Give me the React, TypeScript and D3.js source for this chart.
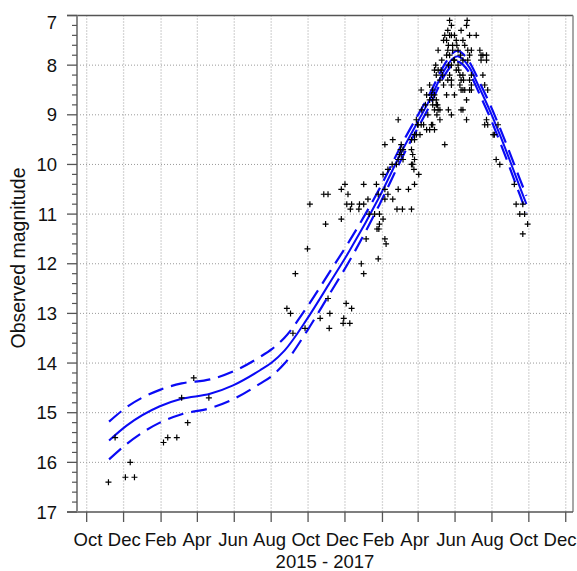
import React from "react";
import * as d3 from "d3";

const WIDTH = 577;
const HEIGHT = 571;

// Observations: [days since 2015-10-01 (UTC), observed magnitude]
const observations: [number, number][] = [
  [36, 16.4], [47, 15.5], [64, 16.3], [72, 16.0], [79, 16.3], [127, 15.6], [134, 15.5],
  [149, 15.5], [157, 14.7], [167, 15.2], [177, 14.3], [202, 14.7],
  [331, 12.9], [337, 13.0], [341, 13.4], [345, 12.2], [361, 13.3], [365, 11.7], [369, 10.8],
  [386, 13.1], [392, 10.6], [395, 11.2], [399, 10.6], [399, 12.7], [401, 13.3], [402, 13.0],
  [421, 10.5], [421, 11.1], [424, 13.2], [425, 13.1], [427, 10.4], [429, 12.8], [430, 10.8],
  [432, 10.6], [435, 13.2], [436, 10.9], [438, 10.8], [438, 12.9], [450, 10.9], [451, 10.8],
  [454, 12.0], [458, 10.4], [458, 10.8], [458, 12.2], [462, 11.5], [465, 10.7], [467, 11.0],
  [476, 11.0], [479, 10.4], [480, 11.3], [482, 10.6], [482, 11.9], [483, 11.3], [484, 11.0],
  [484, 11.2], [490, 10.2], [490, 11.1], [493, 10.5], [493, 11.5], [495, 11.6], [498, 10.6],
  [505, 10.0], [506, 10.7], [513, 10.9], [515, 10.5], [522, 10.9], [532, 10.5], [537, 10.0],
  [537, 10.9], [541, 10.1], [542, 10.4], [549, 10.2],
  [493, 9.6], [493, 10.7], [498, 10.1], [506, 9.5], [512, 10.0], [515, 9.1], [515, 9.9],
  [517, 9.8], [519, 9.7], [520, 9.6], [520, 9.8], [523, 9.7], [523, 9.9], [537, 9.5],
  [537, 9.7], [539, 9.8], [539, 10.0], [542, 9.4], [542, 9.5], [542, 9.9], [545, 9.1],
  [545, 9.4], [547, 9.2], [548, 9.2], [551, 9.4], [553, 8.5], [553, 9.2], [554, 8.9],
  [557, 9.2], [560, 8.8], [562, 8.6], [562, 9.3], [564, 9.0], [567, 8.4], [567, 8.7],
  [567, 9.3], [570, 8.6], [570, 9.2], [572, 8.5], [572, 8.7], [572, 8.8], [572, 9.2],
  [575, 8.1], [575, 8.6], [575, 8.9], [575, 9.3], [577, 8.0], [578, 8.2], [578, 8.7],
  [578, 8.8], [579, 9.0], [580, 8.8], [581, 7.7], [581, 8.1], [581, 8.9], [584, 8.3],
  [584, 8.9], [584, 9.1], [586, 8.1], [587, 7.9], [588, 8.2], [590, 7.5], [590, 8.4],
  [592, 7.4], [592, 9.6], [595, 7.5], [595, 7.8], [595, 8.6], [597, 7.3], [597, 7.7],
  [597, 8.3], [598, 7.6], [598, 8.0], [598, 8.9], [600, 7.1], [600, 7.4], [600, 7.8],
  [600, 8.2], [603, 7.2], [603, 7.4], [603, 8.0], [603, 8.3], [603, 8.4], [603, 9.0],
  [605, 7.6], [605, 7.7], [607, 7.9], [608, 7.4], [608, 7.9], [608, 8.6], [611, 7.5],
  [612, 7.6], [614, 7.7], [614, 8.0], [615, 8.1], [617, 8.2], [617, 8.4], [618, 7.8],
  [619, 7.3], [619, 8.5], [619, 8.9], [622, 7.9], [623, 8.3], [628, 7.2], [628, 8.7],
  [628, 9.1], [629, 7.1], [633, 7.4], [644, 7.4], [650, 7.7], [655, 7.8], [658, 9.2],
  [661, 7.9], [661, 9.1], [663, 9.2],
  [611, 8.1], [619, 8.3], [622, 7.5], [622, 8.2], [622, 8.5], [622, 8.9], [625, 7.6],
  [625, 8.5], [630, 7.7], [630, 7.9], [633, 7.8], [633, 8.3], [633, 8.5], [636, 7.7],
  [636, 8.2], [636, 8.4], [636, 8.5], [652, 7.8], [652, 7.9], [655, 8.2], [658, 8.4],
  [661, 7.8], [663, 8.5], [672, 9.4], [674, 9.4], [677, 9.9], [680, 9.2], [683, 10.0],
  [707, 10.4], [710, 10.8], [716, 11.0], [721, 10.8], [721, 11.4], [724, 11.0], [729, 11.2],
];

// Fitted light curve (days since 2015-10-01) with its confidence half-width
const fitDay = [37, 66, 121, 157, 204, 242, 286, 306, 327, 365, 400, 435, 484, 522, 567, 595, 605, 613, 622, 633, 649, 666, 683, 699, 716, 727];
const fitMag = [15.56, 15.26, 14.87, 14.72, 14.62, 14.45, 14.15, 13.99, 13.75, 13.1, 12.42, 11.73, 10.65, 9.71, 8.70, 8.03, 7.87, 7.82, 7.88, 8.05, 8.45, 8.9, 9.4, 9.9, 10.45, 10.8];
const fitHalfWidth = [0.38, 0.37, 0.33, 0.31, 0.29, 0.28, 0.27, 0.27, 0.26, 0.24, 0.22, 0.2, 0.16, 0.14, 0.12, 0.11, 0.11, 0.11, 0.11, 0.11, 0.12, 0.13, 0.14, 0.15, 0.16, 0.17];

// Axis ticks
const xTickDates = [
  "2015-10-01", "2015-12-01", "2016-02-01", "2016-04-01", "2016-06-01", "2016-08-01", "2016-10-01",
  "2016-12-01", "2017-02-01", "2017-04-01", "2017-06-01", "2017-08-01", "2017-10-01", "2017-12-01",
];
const yTicks = [7, 8, 9, 10, 11, 12, 13, 14, 15, 16, 17];
const xTitle = "2015 - 2017";
const yTitle = "Observed magnitude";

const EPOCH = Date.UTC(2015, 9, 1);
const DAY_MS = 86400000;
const toDate = (d: number) => new Date(EPOCH + d * DAY_MS);

const FONT = "'Liberation Sans', Arial, Helvetica, sans-serif";
const BLUE = "#0a0af5";
const LABEL_SIZE = 18.5;

export default function App() {
  const left = 77;
  const right = 573;
  const top = 15.5;
  const bottom = 512;

  const x = d3
    .scaleUtc()
    .domain([new Date(Date.UTC(2015, 8, 15)), new Date(Date.UTC(2017, 11, 13))])
    .range([left, right]);
  const y = d3.scaleLinear().domain([7, 17]).range([top, bottom]);

  type FitPoint = { d: number; m: number; h: number };
  const fit: FitPoint[] = fitDay.map((d, i) => ({ d, m: fitMag[i], h: fitHalfWidth[i] }));
  const mkLine = (f: (p: FitPoint) => number) =>
    d3
      .line<FitPoint>()
      .x((p) => x(toDate(p.d)))
      .y((p) => y(f(p)))
      .curve(d3.curveMonotoneX)(fit) as string;

  const centerPath = mkLine((p) => p.m);
  const upperPath = mkLine((p) => p.m - p.h);
  const lowerPath = mkLine((p) => p.m + p.h);

  const xTicks = xTickDates.map((s) => new Date(s + "T00:00:00Z"));
  const monthFmt = d3.utcFormat("%b");
  // month names are spread evenly so that the last one stays inside the figure
  const labelX = d3.scaleLinear().domain([0, xTicks.length - 1]).range([88, 560]);
  const minorY = d3.range(7, 17.0001, 0.2).filter((v) => Math.abs(v - Math.round(v)) > 1e-6);

  return (
    <div style={{ position: "absolute", left: 0, top: 0 }}>
      <svg width={WIDTH} height={HEIGHT} style={{ display: "block", background: "#fff" }}>
        {/* grid */}
        <g stroke="#9a9a9a" strokeWidth={1} strokeDasharray="1,2" fill="none">
          {yTicks
            .filter((v) => v > 7 && v < 17)
            .map((v) => (
              <line key={"gy" + v} x1={left} x2={right} y1={y(v)} y2={y(v)} />
            ))}
          {xTicks.map((t, i) => (
            <line key={"gx" + i} x1={x(t)} x2={x(t)} y1={top} y2={bottom} stroke="#b0b0b0" strokeWidth={1.3} />
          ))}
        </g>

        {/* frame */}
        <line x1={left - 10} x2={right} y1={top} y2={top} stroke="#555" strokeWidth={1.5} />
        <line x1={right} x2={right} y1={top} y2={bottom} stroke="#8a8a8a" strokeWidth={1.5} />
        <line x1={left - 10} x2={right} y1={bottom} y2={bottom} stroke="#555" strokeWidth={1.5} />
        <line x1={left} x2={left} y1={top} y2={bottom} stroke="#8a8a8a" strokeWidth={2} />

        {/* y ticks */}
        {yTicks.map((v) => (
          <line key={"ty" + v} x1={left - 10} x2={left} y1={y(v)} y2={y(v)} stroke="#555" strokeWidth={1.3} />
        ))}
        {minorY.map((v, i) => (
          <line key={"my" + i} x1={left - 5} x2={left} y1={y(v)} y2={y(v)} stroke="#555" strokeWidth={1.2} />
        ))}
        {yTicks.map((v) => (
          <text
            key={"ly" + v}
            x={57}
            y={Math.max(y(v), 22.5)}
            textAnchor="end"
            dominantBaseline="central"
            fontFamily={FONT}
            fontSize={LABEL_SIZE}
            fill="#111"
          >
            {v}
          </text>
        ))}

        {/* x ticks */}
        {xTicks.map((t, i) => (
          <g key={"tx" + i}>
            <line x1={x(t)} x2={x(t)} y1={bottom} y2={bottom + 10} stroke="#555" strokeWidth={1.3} />
            <text x={labelX(i)} y={546} textAnchor="middle" fontFamily={FONT} fontSize={LABEL_SIZE} fill="#111">
              {monthFmt(t)}
            </text>
          </g>
        ))}
        <text x={(left + right) / 2} y={568} textAnchor="middle" fontFamily={FONT} fontSize={LABEL_SIZE} fill="#111">
          {xTitle}
        </text>
        <text
          transform={`translate(25,258) rotate(-90)`}
          textAnchor="middle"
          fontFamily={FONT}
          fontSize={19.5}
          fill="#111"
        >
          {yTitle}
        </text>

        {/* fitted curve and confidence band */}
        <path d={upperPath} fill="none" stroke={BLUE} strokeWidth={2.2} strokeDasharray="16,8" />
        <path d={lowerPath} fill="none" stroke={BLUE} strokeWidth={2.2} strokeDasharray="16,8" />
        <path d={centerPath} fill="none" stroke={BLUE} strokeWidth={2} />

        {/* observations */}
        <g stroke="#000" strokeWidth={1.2} fill="none">
          {observations.map(([d, m], i) => {
            const cx = x(toDate(d));
            const cy = y(m);
            return <path key={"o" + i} d={`M${cx - 3},${cy}H${cx + 3}M${cx},${cy - 3}V${cy + 3}`} />;
          })}
        </g>
      </svg>
    </div>
  );
}
